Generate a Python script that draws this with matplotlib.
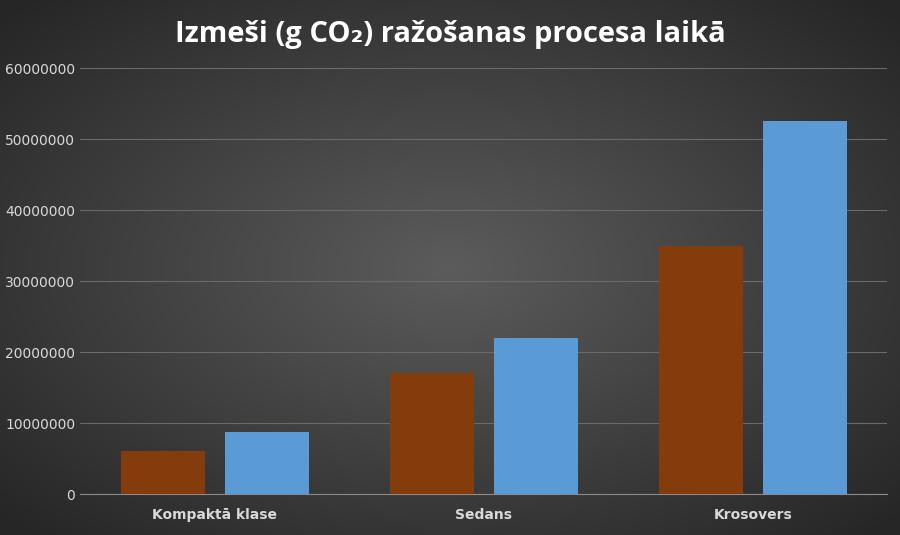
import numpy as np
import matplotlib.pyplot as plt

categories = ['Kompaktā klase', 'Sedans', 'Krosovers']
series_brown = [6000000, 17000000, 35000000]
series_blue = [8800000, 22000000, 52500000]

BROWN = '#843C0C'
BLUE = '#5B9BD5'
TXT = '#D9D9D9'

fig = plt.figure(figsize=(9, 5.35), dpi=100)

# radial gradient background
bg = fig.add_axes([0, 0, 1, 1], zorder=0)
yy, xx = np.mgrid[-1:1:300j, -1:1:500j]
r = np.sqrt((xx * 0.9) ** 2 + (yy * 0.9) ** 2)
g = np.clip(0.36 - 0.17 * r, 0.15, 0.4)
bg.imshow(np.dstack([g, g, g]), aspect='auto', extent=[0, 1, 0, 1])
bg.axis('off')

ax = fig.add_axes([0.089, 0.0766, 0.897, 0.796], zorder=1)
ax.patch.set_alpha(0)
x = np.arange(len(categories))
w = 0.312
ax.bar(x - 0.193, series_brown, w, color=BROWN, zorder=3)
ax.bar(x + 0.193, series_blue, w, color=BLUE, zorder=3)

ax.set_xlim(-0.5, 2.5)
ax.set_ylim(0, 60000000)
ax.set_yticks(np.arange(0, 60000001, 10000000))
ax.set_yticklabels([str(v) for v in range(0, 60000001, 10000000)])
ax.yaxis.grid(True, color='#6a6a6a', linewidth=0.8, zorder=0)
ax.set_xticks(x)
ax.set_xticklabels(categories, fontweight='bold')
ax.tick_params(colors=TXT, labelsize=10, length=0)
ax.tick_params(axis='x', pad=10)
for lab in ax.get_xticklabels() + ax.get_yticklabels():
    lab.set_color(TXT)
for s in ['top', 'right', 'left']:
    ax.spines[s].set_visible(False)
ax.spines['bottom'].set_color('#8a8a8a')

fig.text(0.5, 0.935, 'Izmeši (g CO₂) ražošanas procesa laikā',
         ha='center', va='center', fontsize=21, fontweight='bold',
         color='white', family=['Open Sans', 'DejaVu Sans'])

fig.savefig('out.png', dpi=100)
